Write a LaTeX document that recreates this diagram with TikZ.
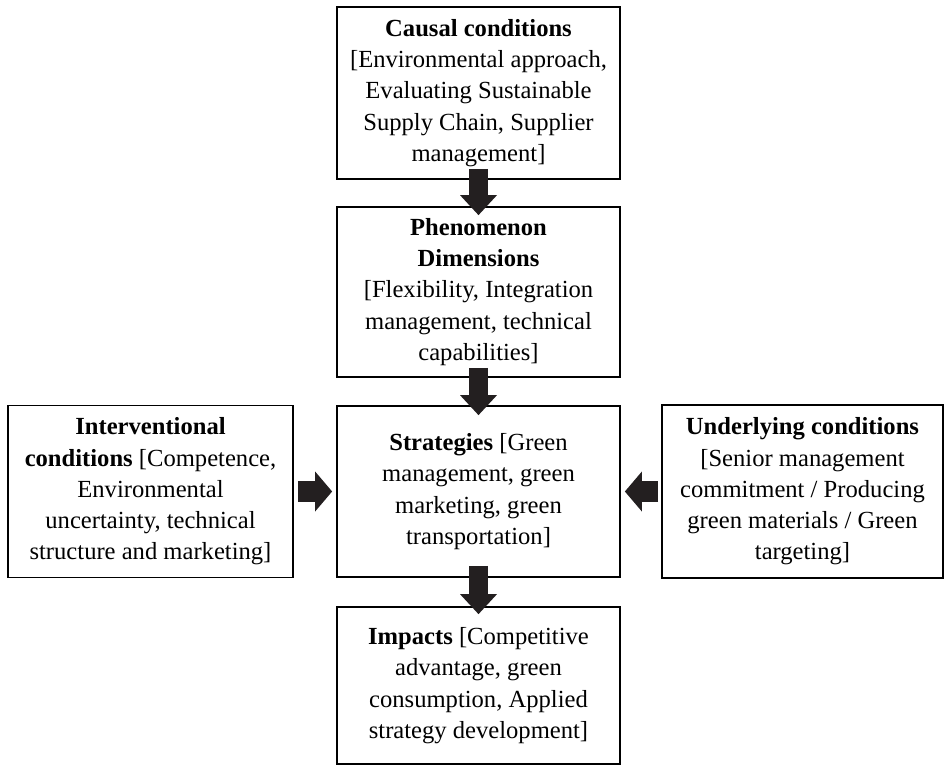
\documentclass[tikz,border=0pt]{standalone}
\usepackage{fontspec}
\setmainfont{Liberation Serif}
\usetikzlibrary{arrows.meta, positioning}
\definecolor{arrowdark}{RGB}{35, 31, 32}

\begin{document}
\begin{tikzpicture}[
  cbox/.style={draw=black, line width=1pt, align=center, inner sep=2pt, font=\fontsize{14}{17.8}\selectfont},
  downarrow/.style={draw=arrowdark, line width=0.38cm, -{Triangle[length=0.4cm, width=0.74cm, line width=0pt]}},
  sidearrow/.style={draw=arrowdark, line width=0.42cm, -{Triangle[length=0.34cm, width=0.8cm, line width=0pt]}}
]
  \useasboundingbox (0, 0) rectangle (18.88, -15.52);

  \node[cbox, minimum width=5.66cm, minimum height=3.44cm] (causal) at (9.57, -1.86)
    {\textbf{Causal conditions}\\ {[}Environmental approach,\\ Evaluating Sustainable\\ Supply Chain, Supplier\\ management{]}};
  \node[cbox, minimum width=5.66cm, minimum height=3.40cm] (phenom) at (9.57, -5.84)
    {\textbf{Phenomenon}\\ \textbf{Dimensions}\\ {[}Flexibility, Integration\\ management, technical\\ capabilities{]}};
  \node[cbox, minimum width=5.66cm, minimum height=3.42cm] (strat) at (9.57, -9.83)
    {\textbf{Strategies} {[}Green\\ management, green\\ marketing, green\\ transportation{]}};
  \node[cbox, minimum width=5.66cm, minimum height=3.14cm] (impacts) at (9.57, -13.71)
    {\textbf{Impacts} {[}Competitive\\ advantage, green\\ consumption, Applied\\ strategy development{]}};
  \node[cbox, minimum width=5.70cm, minimum height=3.44cm] (interv) at (3.01, -9.83)
    {\textbf{Interventional}\\ \textbf{conditions} {[}Competence,\\ Environmental\\ uncertainty, technical\\ structure and marketing{]}};
  \node[cbox, minimum width=5.62cm, minimum height=3.46cm] (under) at (16.05, -9.83)
    {\textbf{Underlying conditions}\\ {[}Senior management\\ commitment / Producing\\ green materials / Green\\ targeting{]}};

  % block arrows
  \draw[downarrow, shorten <=-0.22cm, shorten >=-0.18cm] (causal) -- (phenom);
  \draw[downarrow, shorten <=-0.2cm, shorten >=-0.2cm] (phenom) -- (strat);
  \draw[downarrow, shorten <=-0.24cm, shorten >=-0.16cm] (strat) -- (impacts);
  \draw[sidearrow, shorten <=0.08cm, shorten >=0.08cm] (interv) -- (strat);
  \draw[sidearrow, shorten <=0.06cm, shorten >=0.08cm] (under) -- (strat);
\end{tikzpicture}
\end{document}
